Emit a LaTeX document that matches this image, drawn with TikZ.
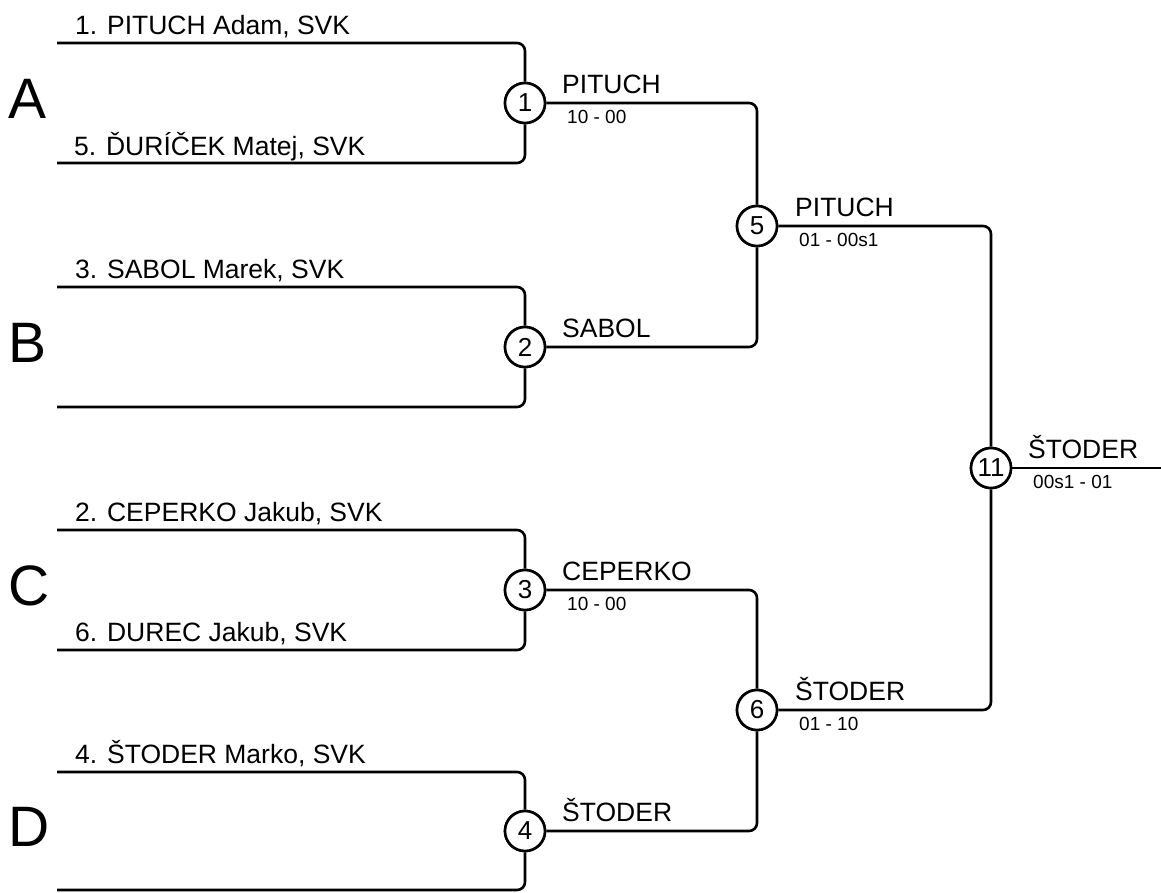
\documentclass[tikz,border=0pt]{standalone}
\usepackage{fontspec}
\setmainfont{Liberation Sans}
\begin{document}
\begin{tikzpicture}[x=1pt,y=-1pt,
  bline/.style={line width=2.6pt,rounded corners=8pt},
  circ/.style={circle,draw,line width=2.6pt,fill=white,minimum size=40pt,inner sep=0pt,font=\fontsize{26}{28}\selectfont},
  nm/.style={anchor=base west,inner sep=0pt,font=\fontsize{26.5}{30}\selectfont},
  sc/.style={anchor=base west,inner sep=0pt,font=\fontsize{19}{22}\selectfont},
  grp/.style={anchor=base west,inner sep=0pt,font=\fontsize{57}{60}\selectfont}]
\useasboundingbox (0,0) rectangle (1161,892);
% start coordinates
\coordinate (p1) at (57,43);
\coordinate (p5) at (57,163);
\coordinate (p3) at (57,287);
\coordinate (p3b) at (57,407);
\coordinate (p2) at (57,530);
\coordinate (p6) at (57,650);
\coordinate (p4) at (57,772);
\coordinate (p4b) at (57,890);
\coordinate (fin) at (1161,468);
% match circles
\node[circ] (m1) at (525,103) {1};
\node[circ] (m2) at (525,347) {2};
\node[circ] (m3) at (525,590) {3};
\node[circ] (m4) at (525,831) {4};
\node[circ] (m5) at (757,226) {5};
\node[circ] (m6) at (757,710) {6};
\node[circ] (m11) at (991,468) {11};
% lines
\draw[bline] (p1) -| (m1);
\draw[bline] (p5) -| (m1);
\draw[bline] (p3) -| (m2);
\draw[bline] (p3b) -| (m2);
\draw[bline] (p2) -| (m3);
\draw[bline] (p6) -| (m3);
\draw[bline] (p4) -| (m4);
\draw[bline] (p4b) -| (m4);
\draw[bline] (m1) -| (m5);
\draw[bline] (m2) -| (m5);
\draw[bline] (m3) -| (m6);
\draw[bline] (m4) -| (m6);
\draw[bline] (m5) -| (m11);
\draw[bline] (m6) -| (m11);
\draw[bline] (m11) -- (fin);
% redraw circles on top
\foreach \n/\t in {m1/1,m2/2,m3/3,m4/4,m5/5,m6/6,m11/11}{\node[circ] at (\n) {\t};}
% player names
\node[nm] (n1) at (75,34) {1. PITUCH Adam, SVK};
\node[nm] (n5) at (74,155) {5. ĎURÍČEK Matej, SVK};
\node[nm] (n3) at (75,278) {3. SABOL Marek, SVK};
\node[nm] (n2) at (75,521) {2. CEPERKO Jakub, SVK};
\node[nm] (n6) at (75,641) {6. DUREC Jakub, SVK};
\node[nm] (n4) at (75,763) {4. ŠTODER Marko, SVK};
% group letters
\node[grp] (gA) at (8,118) {A};
\node[grp] (gB) at (8,362) {B};
\node[grp] (gC) at (8,605) {C};
\node[grp] (gD) at (8,846) {D};
% winners
\node[nm] (w1) at (562,93) {PITUCH};
\node[sc] (s1) at (567,123) {10 - 00};
\node[nm] (w2) at (562,337) {SABOL};
\node[nm] (w3) at (562,580) {CEPERKO};
\node[sc] (s3) at (567,610) {10 - 00};
\node[nm] (w4) at (562,821) {ŠTODER};
\node[nm] (w5) at (795,216) {PITUCH};
\node[sc] (s5) at (799,246) {01 - 00s1};
\node[nm] (w6) at (795,700) {ŠTODER};
\node[sc] (s6) at (799,730) {01 - 10};
\node[nm] (w11) at (1028,458) {ŠTODER};
\node[sc] (s11) at (1033,488) {00s1 - 01};
\end{tikzpicture}
\end{document}
